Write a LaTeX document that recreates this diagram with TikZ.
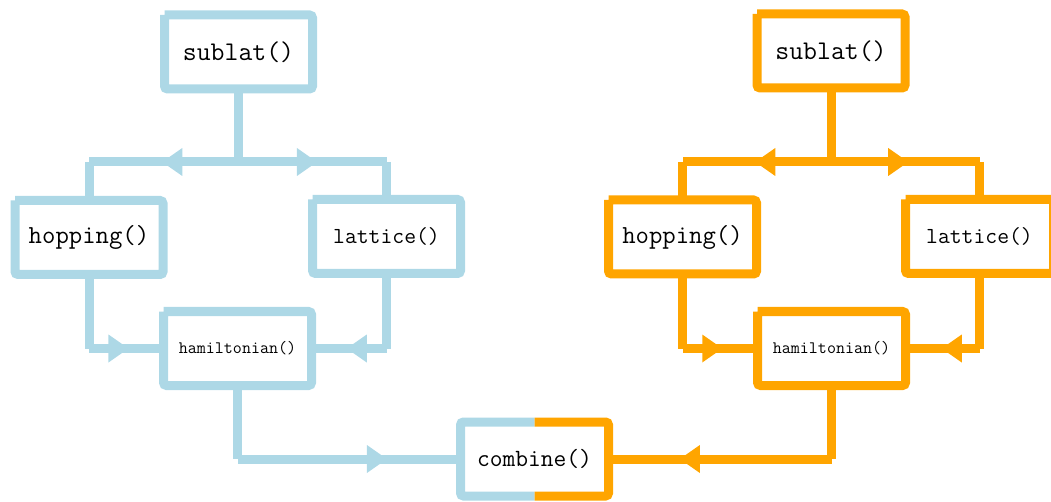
\documentclass[tikz,border=0pt]{standalone}
\usepackage{fontspec}
\usetikzlibrary{arrows.meta,decorations.markings}
\definecolor{lb}{HTML}{ADD8E6}
\definecolor{og}{HTML}{FFA500}
\tikzset{
  fn/.style={minimum width=148pt,minimum height=74pt,inner sep=0pt,outer sep=0pt},
  fsA/.style={font=\ttfamily\fontsize{27}{30}\selectfont},
  fsB/.style={font=\ttfamily\fontsize{26}{29}\selectfont},
  fsC/.style={font=\ttfamily\fontsize{23}{26}\selectfont},
  fsD/.style={font=\ttfamily\fontsize{17.5}{20}\selectfont},
  fsE/.style={font=\ttfamily\fontsize{24.8}{28}\selectfont},
  wire/.style={line width=9pt,line cap=butt},
  boxline/.style={wire,rounded corners=3pt},
  midarrow/.style={postaction={decorate},
    decoration={markings,mark=at position #1 with
      {\arrow{Triangle[length=20pt,width=28pt,line width=0pt]}}}},
}
% outline of a function box, left open at its top-left corner
\newcommand\fnoutline[2]{%
  \draw[boxline,#2] (#1.north west) -- (#1.north east) -- (#1.south east)
    -- (#1.south west) -- (#1.north west);}

\begin{document}
\begin{tikzpicture}[x=1pt,y=-1pt]
\useasboundingbox (0,0) rectangle (1051,502);

% ---- left (blue) group ----
\node[fn,fsA] (sL) at (238.5,52) {sublat()};
\node[fn,fsB] (hL) at (89,237.5) {hopping()};
\node[fn,fsC] (lL) at (386.5,236.5) {lattice()};
\node[fn,fsD] (mL) at (237.5,348.5) {hamiltonian()};

% ---- combining step ----
\node[fn,fsE] (cb) at (534.5,459) {combine()};

% ---- right (orange) group ----
\node[fn,fsA] (sR) at (831,51) {sublat()};
\node[fn,fsB] (hR) at (682.5,237) {hopping()};
\node[fn,fsC] (lR) at (979.5,236.5) {lattice()};
\node[fn,fsD] (mR) at (831.5,348.5) {hamiltonian()};

% branch row
\coordinate (row) at (0,162);
\coordinate (jL) at (sL.south |- row);
\coordinate (hLt) at (hL.north |- row);
\coordinate (lLt) at (lL.north |- row);
\coordinate (hLb) at (hL.south |- mL.west);
\coordinate (lLb) at (lL.south |- mL.east);
\coordinate (mLb) at (mL.south |- cb.west);

\coordinate (jR) at (sR.south |- row);
\coordinate (hRt) at (hR.north |- row);
\coordinate (lRt) at (lR.north |- row);
\coordinate (hRb) at (hR.south |- mR.west);
\coordinate (lRb) at (lR.south |- mR.east);
\coordinate (mRb) at (mR.south |- cb.east);

% left connectors
\draw[wire,lb] (sL.south) -- (jL);
\draw[wire,lb,midarrow=0.51] (jL) -- (hLt);
\draw[wire,lb] (hLt) -- (hL.north);
\draw[wire,lb,midarrow=0.53] (jL) -- (lLt);
\draw[wire,lb] (lLt) -- (lL.north);
\draw[wire,lb] (hL.south) -- (hLb);
\draw[wire,lb,midarrow=0.53] (hLb) -- (mL.west);
\draw[wire,lb] (lL.south) -- (lLb);
\draw[wire,lb,midarrow=0.53] (lLb) -- (mL.east);
\draw[wire,lb] (mL.south) -- (mLb);
\draw[wire,lb,midarrow=0.67] (mLb) -- (cb.west);

% right connectors
\draw[wire,og] (sR.south) -- (jR);
\draw[wire,og,midarrow=0.51] (jR) -- (hRt);
\draw[wire,og] (hRt) -- (hR.north);
\draw[wire,og,midarrow=0.52] (jR) -- (lRt);
\draw[wire,og] (lRt) -- (lR.north);
\draw[wire,og] (hR.south) -- (hRb);
\draw[wire,og,midarrow=0.53] (hRb) -- (mR.west);
\draw[wire,og] (lR.south) -- (lRb);
\draw[wire,og,midarrow=0.51] (lRb) -- (mR.east);
\draw[wire,og] (mR.south) -- (mRb);
\draw[wire,og,midarrow=0.68] (mRb) -- (cb.east);

% box outlines
\fnoutline{sL}{lb}
\fnoutline{hL}{lb}
\fnoutline{lL}{lb}
\fnoutline{mL}{lb}
\fnoutline{sR}{og}
\fnoutline{hR}{og}
\fnoutline{lR}{og}
\fnoutline{mR}{og}
\draw[boxline,lb] (cb.north) -- (cb.north west) -- (cb.south west) -- (cb.south);
\draw[boxline,og] (cb.north) -- (cb.north east) -- (cb.south east) -- (cb.south);
\end{tikzpicture}
\end{document}
